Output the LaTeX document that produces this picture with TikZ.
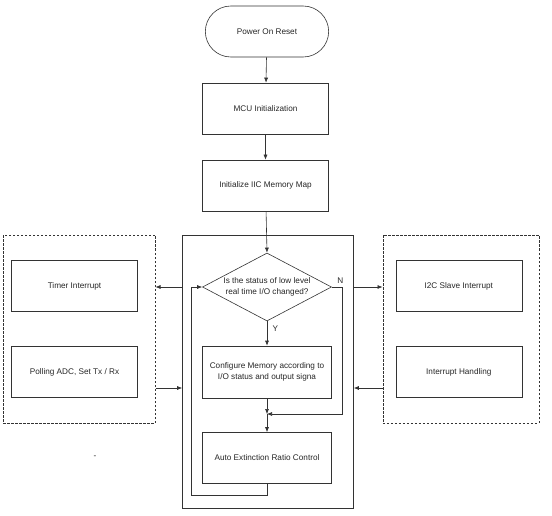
\documentclass[tikz,border=0pt]{standalone}
\usepackage{fontspec}
\setmainfont{Liberation Sans}
\usetikzlibrary{
    positioning,           % Relative positioning
    shapes.geometric,      % Diamond
    shapes.misc,           % Rounded rectangle
    arrows.meta,           % Arrow tips
    calc                   % Coordinate calculations
}

\tikzset{
    every node/.style={font=\fontsize{8.2}{11.3}\selectfont, text=black!85},
    flowline/.style={draw=black!80, line width=0.6pt},
    arr/.style={flowline, -{Latex[length=5pt,width=4pt]}},
    box/.style={flowline, rectangle, minimum width=126pt, minimum height=51pt, align=center, inner sep=1pt},
    term/.style={flowline, rounded rectangle, minimum width=130pt, minimum height=51pt},
    decision/.style={flowline, diamond, minimum width=129pt, minimum height=68pt, inner sep=0pt},
    frame/.style={flowline, rectangle, inner sep=0pt},
    dframe/.style={frame, dashed, dash pattern=on 2.5pt off 1.5pt}
}

\begin{document}
\begin{tikzpicture}[x=1pt,y=-1pt]
    \useasboundingbox (0,0) rectangle (552,516);

    % containers
    \node[frame, minimum width=171pt, minimum height=273pt] (main) at (268,371.5) {};
    \node[dframe, minimum width=152pt, minimum height=188pt] (lft) at (79.2,329) {};
    \node[dframe, minimum width=156pt, minimum height=188pt] (rgt) at (460.8,329) {};

    % main flow
    \node[term] (por) at (267,31.5) {Power On Reset};
    \node[box] (mcu) at (265.5,108.5) {MCU Initialization};
    \node[box] (iic) at (265.5,185.5) {Initialize IIC Memory Map};
    \node[decision] (dia) at (267,287) {};
    \node[align=center] (diatext) at (dia) {Is the status of low level\\real time I/O changed?};
    \node[box, minimum width=129pt, minimum height=52pt] (cfg) at (267,372) {Configure Memory according to\\I/O status and output signa};
    \node[box, minimum width=129pt] (auto) at (267,458) {Auto Extinction Ratio Control};
    \coordinate (merge) at (267,414);
    \coordinate (back) at (0,388);

    % side tasks
    \node[box] (timer) at (74.5,286) {Timer Interrupt};
    \node[box] (poll) at (74.5,372) {Polling ADC, Set Tx / Rx};
    \node[box] (slave) at (458.8,286) {I2C Slave Interrupt};
    \node[box] (handle) at (458.8,372) {Interrupt Handling};
    \node (dash) at (95,457) {-};

    % connectors
    \draw[arr] (por) -- (mcu);
    \draw[arr] (mcu) -- (iic);
    \draw[arr] (iic) -- (dia.north);
    \draw[arr] (dia.south) -- node[right, pos=0.3, xshift=2pt] {Y} (cfg);
    \draw[arr] (dia.east) -- ++(10,0) node[above right, pos=0.2] {N} |- (merge);
    \draw[arr] (cfg) -- (merge);
    \draw[arr] (merge) -- (auto);
    \draw[arr] (auto.south) -- ++(0,11) -| ($(dia.west)+(-11.3,0)$) -- (dia.west);

    \draw[arr] (main.west |- dia) -- (lft.east |- dia);
    \draw[arr] (lft.east |- back) -- (main.west |- back);
    \draw[arr] (main.east |- dia) -- (rgt.west |- dia);
    \draw[arr] (rgt.west |- back) -- (main.east |- back);
\end{tikzpicture}
\end{document}
